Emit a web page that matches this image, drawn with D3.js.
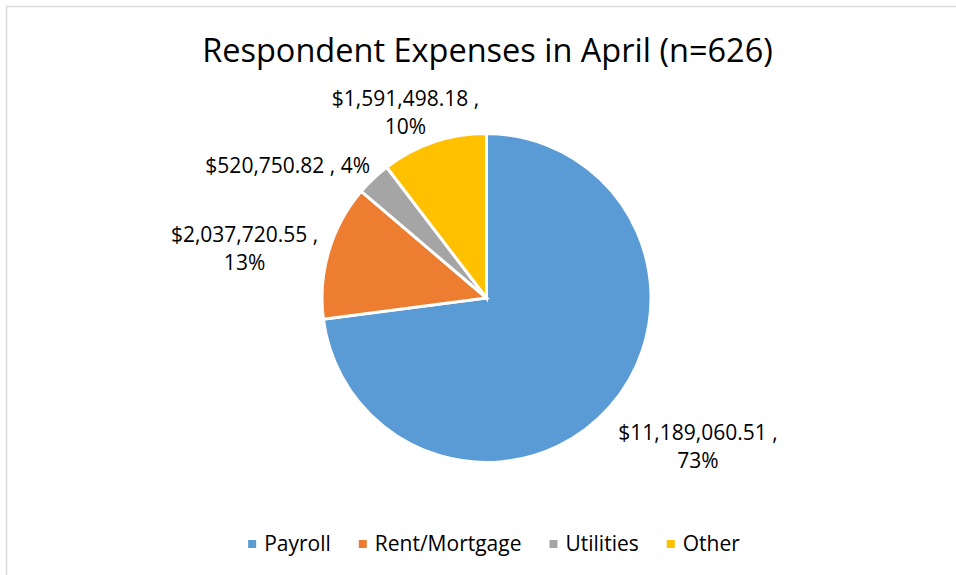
<!DOCTYPE html>
<html>
<head>
<meta charset="utf-8">
<script src="https://cdn.jsdelivr.net/npm/d3@7"></script>
<style>
  body { margin: 0; background: #fff; }
  text { font-family: "Open Sans", "Noto Sans", sans-serif; fill: #000; }
</style>
</head>
<body>
<svg width="956" height="575"></svg>
<script>
var categories = ['Payroll', 'Rent/Mortgage', 'Utilities', 'Other'];
var expenses = [11189060.51, 2037720.55, 520750.82, 1591498.18];
// percentages as printed on the chart's data labels
var percents = [73, 13, 4, 10];
var colors = ['#5B9BD5', '#ED7D31', '#A5A5A5', '#FFC000'];
// labels that Excel wraps onto two lines
var wrapped = [true, true, false, true];

var width = 956;
var height = 575;
var cx = 486.5;
var cy = 298;
var radius = 164.5;
var fontSize = 21;

var svg = d3.select('svg');

// chart area border
svg.append('rect')
  .attr('x', 6.5).attr('y', 6.5)
  .attr('width', width + 10).attr('height', height + 10)
  .attr('fill', 'none')
  .attr('stroke', '#d9d9d9')
  .attr('stroke-width', 1.5);

svg.append('text')
  .attr('x', 487.5)
  .attr('y', 62)
  .attr('text-anchor', 'middle')
  .style('font-size', '32.5px')
  .text('Respondent Expenses in April (n=626)');

var data = categories.map(function(c, i){
  return { name: c, value: expenses[i], pct: percents[i], color: colors[i], wrap: wrapped[i] };
});

var pie = d3.pie().sort(null).value(function(d){ return d.value; });
var arc = d3.arc().innerRadius(0).outerRadius(radius);
var arcs = pie(data);

var g = svg.append('g').attr('transform', 'translate(' + cx + ',' + cy + ')');

g.selectAll('path')
  .data(arcs)
  .enter().append('path')
  .attr('d', arc)
  .attr('fill', function(d){ return d.data.color; })
  .attr('stroke', '#fff')
  .attr('stroke-width', 3);

var money = d3.format('$,.2f');

// outside-end labels: box pushed outward from a point just past the rim
var labels = g.selectAll('text.label')
  .data(arcs)
  .enter().append('text')
  .attr('class', 'label')
  .attr('text-anchor', 'middle')
  .style('font-size', fontSize + 'px');

labels.each(function(d){
  var t = d3.select(this);
  var first = money(d.data.value) + ' ,';
  var second = d.data.pct + '%';
  if (d.data.wrap) {
    t.append('tspan').attr('x', 0).attr('dy', 0).text(first);
    t.append('tspan').attr('x', 0).attr('dy', 27.5).text(second);
  } else {
    t.append('tspan').attr('x', 0).attr('dy', 0).text(first + ' ' + second);
  }
  var box = this.getBBox();
  var a = (d.startAngle + d.endAngle) / 2;
  var dx = Math.sin(a), dy = -Math.cos(a);
  var m = Math.max(Math.abs(dx), Math.abs(dy));
  var px = dx * (radius + 11), py = dy * (radius + 11);
  var bx = px + dx / m * box.width / 2;
  var by = py + dy / m * box.height / 2 + 8;
  var ox = bx - (box.x + box.width / 2);
  var oy = by - (box.y + box.height / 2);
  t.attr('transform', 'translate(' + ox + ',' + oy + ')');
});

// legend
var legend = svg.append('g');
var x = 0;
data.forEach(function(d){
  var item = legend.append('g').attr('transform', 'translate(' + x + ',0)');
  item.append('rect')
    .attr('x', 0).attr('y', -4)
    .attr('width', 8).attr('height', 8)
    .attr('fill', d.color);
  var t = item.append('text')
    .attr('x', 16).attr('y', 7)
    .style('font-size', fontSize + 'px')
    .text(d.name);
  x += 16 + t.node().getComputedTextLength() + 28;
});
var legendWidth = x - 28;
legend.attr('transform', 'translate(' + (494 - legendWidth / 2) + ',544)');
</script>
</body>
</html>
